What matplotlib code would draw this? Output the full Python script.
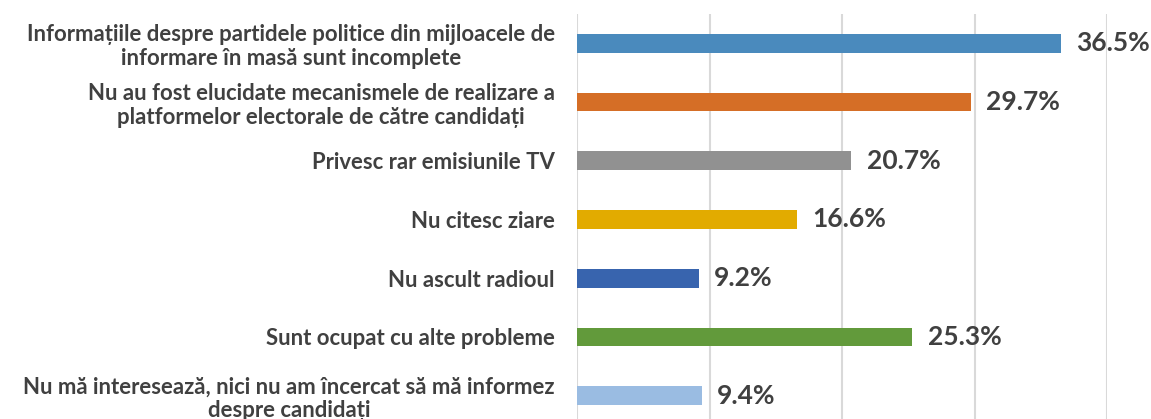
import matplotlib.pyplot as plt

#---- Data ----
categories = [
    "Informațiile despre partidele politice din mijloacele de\ninformare în masă sunt incomplete",
    "Nu au fost elucidate mecanismele de realizare a\nplatformelor electorale de către candidați",
    "Privesc rar emisiunile TV",
    "Nu citesc ziare",
    "Nu ascult radioul",
    "Sunt ocupat cu alte probleme",
    "Nu mă interesează, nici nu am încercat să mă informez\ndespre candidați",
]
values = [36.5, 29.7, 20.7, 16.6, 9.2, 25.3, 9.4]
colors = ['#4a8abd', '#d56e26', '#919191', '#e2ab00', '#3864ae', '#629a3b', '#9abce2']

plt.rcParams['font.family'] = ['Lato', 'DejaVu Sans']

fig = plt.figure(figsize=(11.51, 4.19), dpi=100)
ax = fig.add_axes([0.5013, -0.0143, 0.4605, 0.9809])

pos = list(range(len(values)))
bars = ax.barh(pos, values, height=0.32, color=colors, zorder=3)

ax.set_xlim(0, 40)
ax.set_ylim(len(values) - 0.5, -0.5)
ax.set_xticks([0, 10, 20, 30, 40])
ax.xaxis.grid(True, color='#d9d9d9', linewidth=1.5, zorder=0)
ax.tick_params(axis='x', length=0, labelbottom=False)

ax.set_yticks(pos)
ax.set_yticklabels(categories, fontsize=15.9, fontweight='bold', color='#404040')
for t in ax.get_yticklabels():
    t.set_multialignment('center')
    t.set_linespacing(1.15)
ax.tick_params(axis='y', length=0, pad=16)

for s in ax.spines.values():
    s.set_visible(False)

ax.bar_label(bars, labels=['{:.1f}%'.format(v) for v in values], padding=11,
             fontsize=19, fontweight='bold', color='#404040', clip_on=False)

fig.savefig('out.png', dpi=100)
